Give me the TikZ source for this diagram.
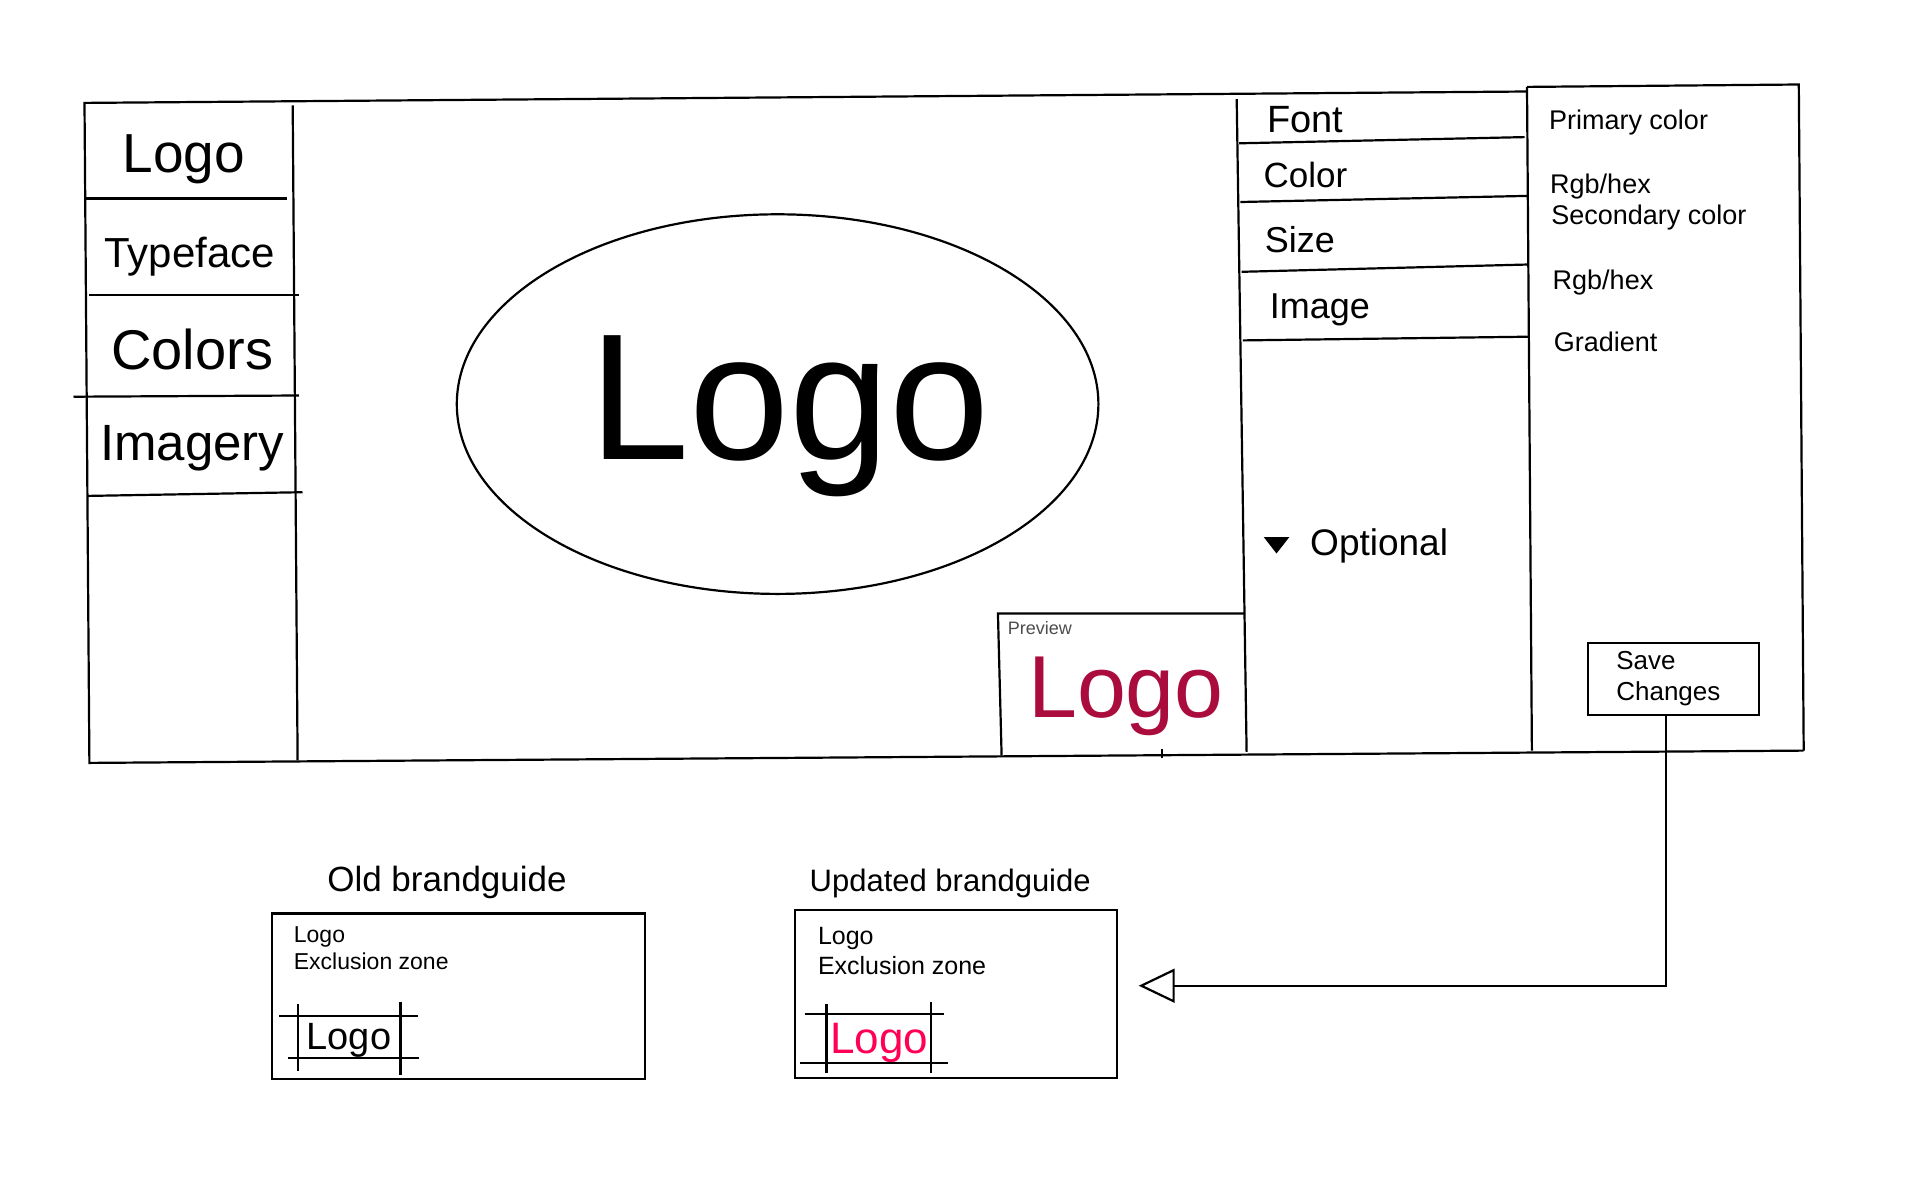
\documentclass[tikz,border=0pt]{standalone}
\usepackage{fontspec}
\setmainfont{Liberation Sans}
\usepackage{tikz}
\usetikzlibrary{arrows.meta}
\tikzset{
every picture/.style={
line width=2.2pt
}}
\definecolor{logocrimson}{RGB}{170,12,62}
\definecolor{logopink}{RGB}{255,0,85}
\newcommand{\fsz}[1]{\fontsize{#1}{1.15\dimexpr#1pt\relax}\selectfont}

\begin{document}
\begin{tikzpicture}[x=1pt,y=-1pt,
    every node/.style={inner sep=0pt, outer sep=0pt},
    menu/.style={anchor=base, font=\fsz{#1}},
    item/.style={anchor=base west, font=\fsz{#1}},
    btn/.style={draw, anchor=north west, minimum width=171pt, minimum height=72pt},
    guide/.style={draw, anchor=north west},
    flow/.style={-{Triangle[open, length=36pt, width=34pt]}, shorten >=22pt}
    ]
  \useasboundingbox (0,0) rectangle (1920,1200);
  % main frame
  \draw (1527,91.5) -- (84.5,102.9) -- (89.4,762.9) -- (1803.7,750.6);
  \draw (1527,86.9) -- (1798.8,84.5) -- (1803.7,750.6);
  % left menu
  \draw (292.7,105.3) -- (297.6,760.4);
  \draw (85.7,198.4) -- (286.5,198.4);
  \draw (89.4,295.1) -- (298.8,295.1);
  \draw (73.5,396.7) -- (298.8,395.5);
  \draw (88.2,495.9) -- (302.5,492.2);
  \node[menu=55] (mlogo) at (183.7,172.7) {Logo};
  \node[menu=42] (mtype) at (189.8,267) {Typeface};
  \node[menu=56] (mcolors) at (192.2,369.8) {Colors};
  \node[menu=51] (mimagery) at (192.2,460.4) {Imagery};
  % canvas
  \draw (777.6,404.1) ellipse [x radius=320.8, y radius=189.8];
  \node[menu=180] (biglogo) at (789.8,459.2) {Logo};
  % preview
  \draw (1001.6,755.5) -- (998,616) -- (998,613.5) -- (1244.1,613.5);
  \draw (1162,749.4) -- (1162,758);
  \node[item=18, text=black!70] (preview) at (1007.8,634.3) {Preview};
  \node[menu=88, text=logocrimson] (prevlogo) at (1126,717.6) {Logo};
  % property list
  \draw (1236.7,99.2) -- (1246.6,751.8);
  \draw (1239.2,143.3) -- (1524.5,137.1);
  \draw (1240.4,202) -- (1527,195.9);
  \draw (1241.6,271.8) -- (1528.2,264.5);
  \draw (1242.9,340.4) -- (1528.2,336.7);
  \node[item=38] (pfont) at (1267.4,132.2) {Font};
  \node[item=35] (pcolor) at (1263.7,187.3) {Color};
  \node[item=36] (psize) at (1264.9,252.2) {Size};
  \node[item=36] (pimage) at (1269.8,318.4) {Image};
  \node[item=37] (poptional) at (1310.2,555.9) {Optional};
  \fill (1263.7,537) -- (1289.4,537) -- (1276.5,553.5) -- cycle;
  % detail panel
  \draw (1527,86.9) -- (1531.9,750.6);
  \node[item=27] (primary) at (1549,129.8) {Primary color};
  \node[item=27] (rgbone) at (1550.2,193.5) {Rgb/hex};
  \node[item=27] (secondary) at (1551.4,224.1) {Secondary color};
  \node[item=27] (rgbtwo) at (1552.7,289) {Rgb/hex};
  \node[item=27] (gradient) at (1553.9,351.4) {Gradient};
  \node[btn] (save) at (1588.2,642.9) {};
  \node[item=26] (savetxt) at (1616.3,669.8) {Save};
  \node[item=26] (changestxt) at (1616.3,700.4) {Changes};
  % brandguides
  \node[menu=35] (oldtitle) at (447,891.4) {Old brandguide};
  \node[guide, minimum width=373.5pt, minimum height=165.3pt] (old) at (271.8,913.5) {};
  \node[item=23] (oldlogo) at (293.9,942.9) {Logo};
  \node[item=23] (oldzone) at (293.9,969.8) {Exclusion zone};
  \node[menu=38] (oldmark) at (349,1049.4) {Logo};
  \draw (279.2,1016.3) -- (417.6,1016.3);
  \draw (287.8,1058) -- (418.8,1058);
  \draw (297.6,1004.1) -- (297.6,1071.4);
  \draw (400.4,1001.6) -- (400.4,1075.1);
  \node[menu=31] (newtitle) at (950.2,891.4) {Updated brandguide};
  \node[guide, minimum width=322pt, minimum height=167.8pt] (upd) at (794.7,909.8) {};
  \node[item=25] (updlogo) at (818,944.1) {Logo};
  \node[item=25] (updzone) at (818,974.7) {Exclusion zone};
  \node[menu=44, text=logopink] (updmark) at (879.2,1053) {Logo};
  \draw (804.5,1013.9) -- (944.1,1013.9);
  \draw (799.6,1062.9) -- (947.8,1062.9);
  \draw (826.5,1004.1) -- (826.5,1072.7);
  \draw (930.6,1001.6) -- (930.6,1072.7);
  % save feeds the updated guide
  \draw[flow] ([xshift=-8pt]save.south) |- ([yshift=8pt]upd.east);
\end{tikzpicture}
\end{document}
